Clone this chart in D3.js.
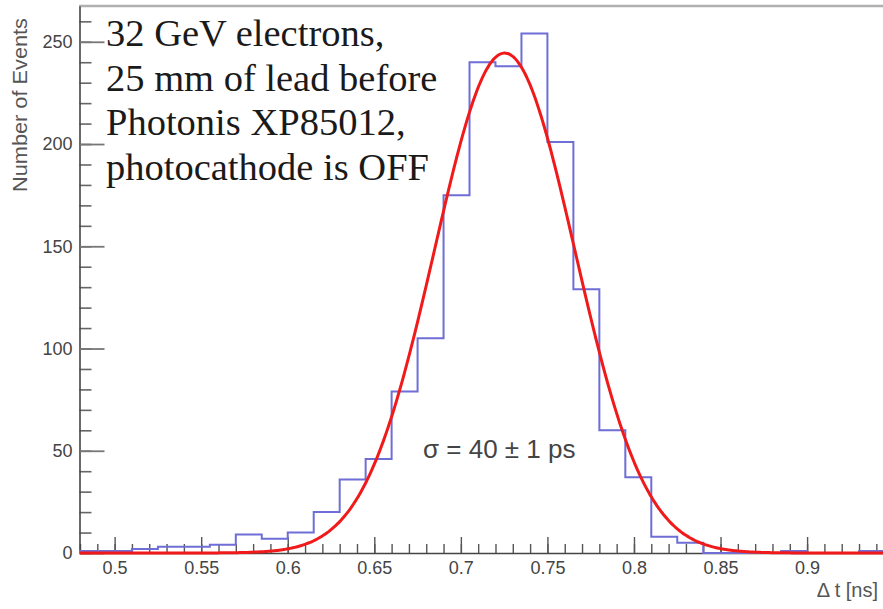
<!DOCTYPE html>
<html>
<head>
<meta charset="utf-8">
<script src="https://cdn.jsdelivr.net/npm/d3@7"></script>
<style>
  html, body { margin: 0; padding: 0; background: #fff; }
  svg { display: block; }
  .tick text { font-family: "Liberation Sans", Arial, sans-serif; fill: #444; }
</style>
</head>
<body>
<svg width="883" height="609"></svg>
<script>
// histogram bins (low edges, width 0.015 ns) and counts
const binLow = [0.48, 0.495, 0.51, 0.525, 0.54, 0.555, 0.57, 0.585, 0.60, 0.615,
                0.63, 0.645, 0.66, 0.675, 0.69, 0.705, 0.72, 0.735, 0.75, 0.765,
                0.78, 0.795, 0.81, 0.825, 0.84, 0.855, 0.87, 0.885, 0.90, 0.915, 0.93];
const binCounts = [1, 1, 2, 3, 3, 4, 9, 7, 10, 20,
                   36, 46, 79, 105, 175, 240, 238, 254, 201, 129,
                   60, 37, 8, 5, 0, 0, 0, 1, 0, 0, 1];
const binWidth = 0.015;

// gaussian fit drawn in red
const fitConstant = 244.5, fitMean = 0.7253, fitSigma = 0.0405;

const xTicks = [0.5, 0.55, 0.6, 0.65, 0.7, 0.75, 0.8, 0.85, 0.9];
const yTicks = [0, 50, 100, 150, 200, 250];

const infoLines = ["32 GeV electrons,", "25 mm of lead before", "Photonis XP85012,", "photocathode is OFF"];

const svg = d3.select("svg");

const x = d3.scaleLinear().domain([0.48, 0.945]).range([80, 885]);
const y = d3.scaleLinear().domain([0, 267.5]).range([553, 6]);

// top frame
svg.append("line")
   .attr("x1", 79).attr("x2", 883).attr("y1", 6).attr("y2", 6)
   .attr("stroke", "#b0b0b0").attr("stroke-width", 2.5);

// x axis: minor + major ticks pointing inward
const xAxisG = svg.append("g").attr("transform", `translate(0,${y(0)})`);
xAxisG.append("g")
  .call(d3.axisBottom(x).tickValues(d3.range(0.48, 0.945, 0.01)).tickSize(-9).tickFormat(""))
  .call(g => g.select(".domain").remove())
  .call(g => g.selectAll(".tick line").attr("stroke", "#555").attr("stroke-width", 1.4));
xAxisG.append("g")
  .call(d3.axisBottom(x).tickValues(xTicks).tickSize(-16).tickSizeOuter(0).tickPadding(8).tickFormat(d => String(d)))
  .call(g => g.select(".domain").attr("stroke", "#444").attr("stroke-width", 1.6))
  .call(g => g.selectAll(".tick line").attr("stroke", "#555").attr("stroke-width", 1.4))
  .call(g => g.selectAll(".tick text").attr("font-size", 18));

// y axis
const yAxisG = svg.append("g").attr("transform", `translate(79.5,0)`);
yAxisG.append("g")
  .call(d3.axisLeft(y).tickValues(d3.range(0, 261, 10)).tickSize(-12).tickFormat(""))
  .call(g => g.select(".domain").remove())
  .call(g => g.selectAll(".tick line").attr("stroke", "#666").attr("stroke-width", 1.6));
yAxisG.append("g")
  .call(d3.axisLeft(y).tickValues(yTicks).tickSize(-25).tickSizeOuter(0).tickPadding(7))
  .call(g => g.select(".domain").attr("stroke", "#444").attr("stroke-width", 1.6))
  .call(g => g.selectAll(".tick line").attr("stroke", "#777").attr("stroke-width", 1.8))
  .call(g => g.selectAll(".tick text").attr("font-size", 18));

// histogram outline
const histPts = [[binLow[0], 0]]
  .concat(binLow.map((b, i) => [b, binCounts[i]]))
  .concat([[binLow[binLow.length - 1] + binWidth, binCounts[binCounts.length - 1]],
           [binLow[binLow.length - 1] + binWidth, 0]]);

svg.append("path")
   .datum(histPts)
   .attr("fill", "none")
   .attr("stroke", "#6e6ed6")
   .attr("stroke-width", 2)
   .attr("d", d3.line().x(d => x(d[0])).y(d => y(d[1])).curve(d3.curveStepAfter));

// fit curve
const fitPts = d3.range(0.48, 0.9451, 0.001).map(t =>
  [t, fitConstant * Math.exp(-0.5 * Math.pow((t - fitMean) / fitSigma, 2))]);

svg.append("path")
   .datum(fitPts)
   .attr("fill", "none")
   .attr("stroke", "#f01a1a")
   .attr("stroke-width", 3)
   .attr("d", d3.line().x(d => x(d[0])).y(d => y(d[1])).curve(d3.curveBasis));

// axis titles
svg.append("text")
   .attr("transform", "translate(27,18) rotate(-90)")
   .attr("text-anchor", "end")
   .attr("font-family", "Liberation Sans, Arial, sans-serif")
   .attr("font-size", 20)
   .attr("textLength", 174)
   .attr("lengthAdjust", "spacingAndGlyphs")
   .attr("fill", "#555")
   .text("Number of Events");

svg.append("text")
   .attr("x", 878).attr("y", 597)
   .attr("text-anchor", "end")
   .attr("font-family", "Liberation Sans, Arial, sans-serif")
   .attr("font-size", 20)
   .attr("fill", "#555")
   .text("\u0394 t [ns]");

// fit result
svg.append("text")
   .attr("x", 423).attr("y", 458)
   .attr("font-family", "Liberation Sans, Arial, sans-serif")
   .attr("font-size", 26)
   .attr("fill", "#444")
   .text("\u03c3 = 40 \u00b1  1 ps");

// description
svg.append("g")
   .selectAll("text")
   .data(infoLines)
   .join("text")
   .attr("x", 106)
   .attr("y", (d, i) => 46 + i * 44.7)
   .attr("font-family", "Liberation Serif, Times New Roman, serif")
   .attr("font-size", 38.5)
   .attr("fill", "#1a1a1a")
   .text(d => d);
</script>
</body>
</html>
